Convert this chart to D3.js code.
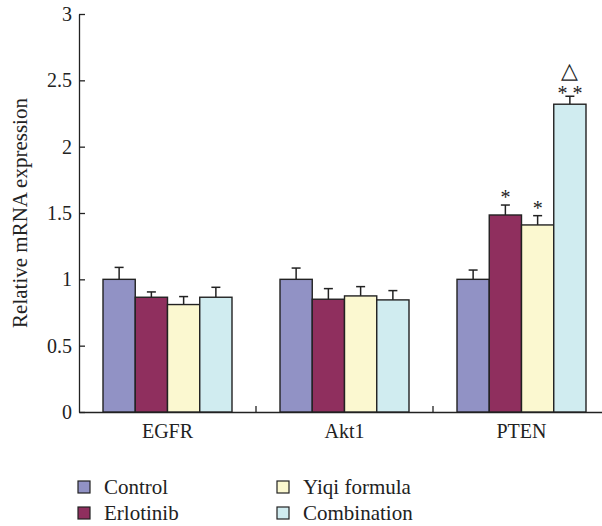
<!DOCTYPE html>
<html><head><meta charset="utf-8">
<script src="https://cdn.jsdelivr.net/npm/d3@7"></script>
<style>body{margin:0;background:#fff}</style>
</head><body><svg id="c" width="602" height="526"></svg>
<script>
const categories = ["EGFR","Akt1","PTEN"];
const seriesNames = ["Control","Erlotinib","Yiqi formula","Combination"];
const colors = ["#9192c5","#8f2f5e","#fbf8d0","#d0ecf0"];
const means = [
  [1.0, 0.865, 0.81, 0.865],
  [1.0, 0.85, 0.875, 0.845],
  [1.0, 1.485, 1.41, 2.32]
];
const errors = [
  [0.09, 0.04, 0.06, 0.075],
  [0.085, 0.08, 0.07, 0.07],
  [0.07, 0.075, 0.07, 0.06]
];
const marks = [
  ["","","",""],
  ["","","",""],
  ["","*","*","* *"]
];
const marks2 = [["","","",""],["","","",""],["","","","△"]];
const yTicks = [0,0.5,1,1.5,2,2.5,3];
const FONT = "Liberation Serif, Times New Roman, serif";

const svg = d3.select("#c").style("font-family",FONT);
const x0 = d3.scaleBand().domain(categories).range([79,610]);
const x1 = d3.scaleBand().domain(seriesNames).range([0,129]);
const y = d3.scaleLinear().domain([0,3]).range([412,14]);
const bandOff = (x0.bandwidth()-129)/2;

// y axis (inward ticks)
const ya = svg.append("g").attr("transform","translate(79,0)")
  .call(d3.axisLeft(y).tickValues(yTicks).tickFormat(d=>d).tickSizeInner(-6).tickSizeOuter(0).tickPadding(7));
ya.attr("font-family",null).attr("font-size",null);
ya.select(".domain").attr("stroke","#222").attr("stroke-width",1.3);
ya.selectAll(".tick line").attr("stroke","#222").attr("stroke-width",1.3);
ya.selectAll("text").style("font-family",FONT).style("font-size","20px").attr("fill","#222");

// x axis
const xa = svg.append("g").attr("transform","translate(0,412)")
  .call(d3.axisBottom(x0).tickSize(0).tickPadding(12));
xa.attr("font-family",null).attr("font-size",null);
xa.select(".domain").attr("stroke","#222").attr("stroke-width",1.3);
xa.selectAll("text").style("font-family",FONT).style("font-size","20px").attr("fill","#222");
// separator ticks
svg.selectAll(".sep").data(categories.slice(1)).enter().append("line")
  .attr("x1",d=>x0(d)).attr("x2",d=>x0(d)).attr("y1",412).attr("y2",406)
  .attr("stroke","#222").attr("stroke-width",1.3);

const groups = svg.selectAll(".grp").data(categories).enter().append("g")
  .attr("transform",d=>`translate(${x0(d)+bandOff},0)`);
groups.each(function(cat,ci){
  const g = d3.select(this);
  seriesNames.forEach((s,si)=>{
    const v = means[ci][si], e = errors[ci][si];
    const bx = x1(s), bw = x1.bandwidth(), cx = bx+bw/2;
    g.append("line").attr("x1",cx).attr("x2",cx).attr("y1",y(v)).attr("y2",y(v+e))
      .attr("stroke","#222").attr("stroke-width",1.5);
    g.append("line").attr("x1",cx-4.5).attr("x2",cx+4.5).attr("y1",y(v+e)).attr("y2",y(v+e))
      .attr("stroke","#222").attr("stroke-width",1.5);
    g.append("rect").attr("x",bx).attr("y",y(v)).attr("width",bw).attr("height",y(0)-y(v))
      .attr("fill",colors[si]).attr("stroke","#222").attr("stroke-width",1.4);
    const m = marks[ci][si], m2 = marks2[ci][si];
    if(m){
      const double = m.length>1;
      const t = g.append("text").attr("text-anchor","middle").attr("fill","#222")
        .style("font-family",FONT).style("font-size","20px");
      if(m2){
        t.append("tspan").attr("x",cx).attr("y",y(v+e)-18).style("font-size","22px").text(m2);
      }
      t.append("tspan").attr("x",cx).attr("y",y(v+e)+(double?4:-1)).text(m);
    }
  });
});

// y label
svg.append("text").attr("transform","translate(27,213) rotate(-90)").attr("fill","#222")
  .attr("text-anchor","middle").style("font-family",FONT).style("font-size","21px").text("Relative mRNA expression");

// legend
const legPos = [[78,487],[78,513],[277,487],[277,513]];
seriesNames.forEach((s,i)=>{
  const [lx,ly] = legPos[i];
  svg.append("rect").attr("x",lx).attr("y",ly-6).attr("width",12).attr("height",12)
    .attr("fill",colors[i]).attr("stroke","#222").attr("stroke-width",1.2);
  svg.append("text").attr("x",lx+26).attr("y",ly+7).attr("fill","#222")
    .style("font-family",FONT).style("font-size","21px").text(s);
});
</script></body></html>
